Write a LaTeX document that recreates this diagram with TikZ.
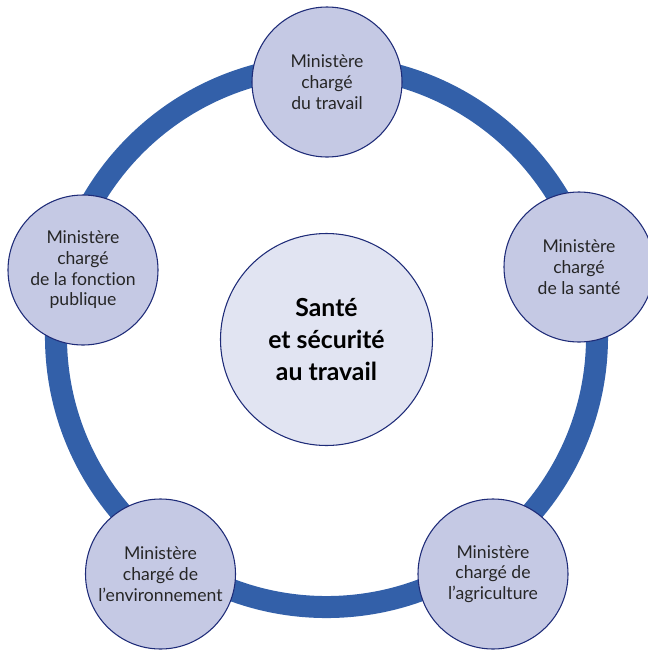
\documentclass[tikz,border=0pt]{standalone}
\usepackage{fontspec}
\setmainfont{Lato}[Ligatures=CommonOff]
\usepackage{tikz}

\definecolor{anneau}{HTML}{3360A9}
\definecolor{bordure}{HTML}{1E2B78}
\definecolor{fondmin}{HTML}{C5C9E4}
\definecolor{fondcentre}{HTML}{E1E4F2}

\begin{document}
\begin{tikzpicture}[x=0.75pt,y=-0.75pt,
    ministere/.style={circle,draw=bordure,line width=0.8pt,fill=fondmin,
      minimum size=112.5pt,inner sep=0pt,align=center,
      font=\fontsize{13.2}{15.5}\selectfont,text=black!85},
    centre/.style={circle,draw=bordure,line width=0.8pt,fill=fondcentre,
      minimum size=159pt,inner sep=0pt,align=center,
      font=\fontsize{18.6}{24}\selectfont\bfseries}]
      % Cadre de la figure
      \useasboundingbox (0,0) rectangle (647,654);

      % Anneau bleu
      \draw[anneau,line width=16.5pt] (326.5,336.5) circle [radius=202.9pt];

      % Cercle central
      \node[centre] (Centre) at (326.5,339.5) {Santé\\et sécurité\\au travail};

      % Les cinq ministères
      \node[ministere] (Travail) at (327,82) {Ministère\\chargé\\du travail};
      \node[ministere] (Sante) at (579,267) {Ministère\\chargé\\de la santé};
      \node[ministere] (Agri) at (493,574) {Ministère\\chargé de\\l’agriculture};
      \node[ministere] (Envir) at (160.5,574) {Ministère\\chargé de\\l’environnement};
      \node[ministere] (FonctPub) at (83,270) {Ministère\\chargé\\de la fonction\\publique};
\end{tikzpicture}
\end{document}
